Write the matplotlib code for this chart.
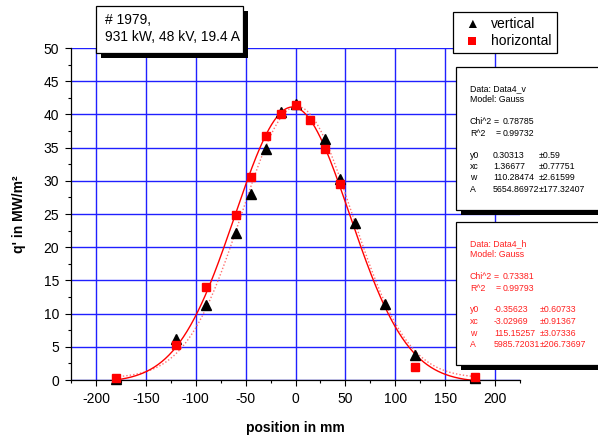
import numpy as np
import matplotlib
matplotlib.use("Agg")
import matplotlib.pyplot as plt
from matplotlib.patches import Rectangle
from matplotlib.ticker import MultipleLocator

plt.rcParams['font.family'] = ['Liberation Sans', 'DejaVu Sans']
plt.rcParams['axes.unicode_minus'] = False

# ---- data ----
x_vert = [-180, -120, -90, -60, -45, -30, -15, 0, 30, 45, 60, 90, 120, 180]
y_vert = [0.2, 6.2, 11.3, 22.1, 28.0, 34.8, 40.4, 41.6, 36.3, 30.3, 23.7, 11.4, 3.7, 0.3]

x_horiz = [-180, -120, -90, -60, -45, -30, -15, 0, 15, 30, 45, 120, 180]
y_horiz = [0.3, 5.2, 14.0, 24.9, 30.5, 36.7, 40.1, 41.4, 39.1, 34.8, 29.5, 2.0, 0.5]

# Gauss fit parameters (Origin Gauss model): y0, xc, w, A
fit_vert = [0.30313, 1.36677, 110.28474, 5654.86972]
fit_horiz = [-0.35623, -3.02969, 115.15257, 5985.72031]

x_ticks = [-200, -150, -100, -50, 0, 50, 100, 150, 200]
y_ticks = [0, 5, 10, 15, 20, 25, 30, 35, 40, 45, 50]

title_lines = ["# 1979,", "931 kW, 48 kV, 19.4 A"]
legend_labels = ["vertical", "horizontal"]

box_v_head = ["Data: Data4_v", "Model: Gauss"]
box_v_stats = [("Chi^2", "0.78785"), ("R^2", "0.99732")]
box_v_params = [("y0", "0.30313", "\u00b10.59"),
                ("xc", "1.36677", "\u00b10.77751"),
                ("w", "110.28474", "\u00b12.61599"),
                ("A", "5654.86972", "\u00b1177.32407")]

box_h_head = ["Data: Data4_h", "Model: Gauss"]
box_h_stats = [("Chi^2", "0.73381"), ("R^2", "0.99793")]
box_h_params = [("y0", "-0.35623", "\u00b10.60733"),
                ("xc", "-3.02969", "\u00b10.91367"),
                ("w", "115.15257", "\u00b13.07336"),
                ("A", "5985.72031", "\u00b1206.73697")]


def gauss(x, p):
    y0, xc, w, A = p
    return y0 + A / (w * np.sqrt(np.pi / 2)) * np.exp(-2 * ((x - xc) / w) ** 2)


W, H = 598, 436
fig = plt.figure(figsize=(W / 100, H / 100), dpi=100)


def fx(px):
    return px / W


def fy(py):
    return 1 - py / H


L, R, T, B = 71, 520, 48, 380
ax = fig.add_axes([fx(L), fy(B), (R - L) / W, (B - T) / H])
ax.set_xlim(-225, 225)
ax.set_ylim(0, 50)
for s in ['top', 'right']:
    ax.spines[s].set_visible(False)
for s in ['left', 'bottom']:
    ax.spines[s].set_linewidth(0.9)

ax.set_xticks(x_ticks)
ax.set_yticks(y_ticks)
ax.xaxis.set_minor_locator(MultipleLocator(25))
ax.yaxis.set_minor_locator(MultipleLocator(2.5))
ax.tick_params(which='major', direction='out', length=4, width=0.8, labelsize=10, pad=4.5)
ax.tick_params(which='minor', direction='out', length=2.5, width=0.8)
ax.grid(True, which='major', color='#2020ff', linewidth=1.0)
ax.set_axisbelow(True)

xs = np.linspace(-180, 180, 400)
ax.plot(xs, gauss(xs, fit_vert), color='#ff7070', linestyle=(0, (1, 1.5)), linewidth=1.0, zorder=2)
ax.plot(xs, gauss(xs, fit_horiz), color='red', linewidth=1.0, zorder=2)
ax.plot(x_vert, y_vert, linestyle='none', marker='^', color='black', markersize=7, zorder=3, clip_on=False)
ax.plot(x_horiz, y_horiz, linestyle='none', marker='s', color='red', markersize=6, zorder=4, clip_on=False)

ax.set_xlabel("position in mm", fontsize=10, fontweight='bold', labelpad=11)
ax.set_ylabel("q' in MW/m\u00b2", fontsize=10, fontweight='bold', labelpad=13)


def box(x0, y0, x1, y1, shadow=0, sh_dx=0):
    if shadow:
        fig.patches.append(Rectangle((fx(x0 + sh_dx), fy(y1 + shadow)), (x1 - x0) / W, (y1 - y0) / H,
                                     transform=fig.transFigure, facecolor='black', edgecolor='none', zorder=5))
    fig.patches.append(Rectangle((fx(x0), fy(y1)), (x1 - x0) / W, (y1 - y0) / H,
                                 transform=fig.transFigure, facecolor='white', edgecolor='black',
                                 linewidth=0.9, zorder=6))


# title box
box(96, 6, 243, 53, shadow=5, sh_dx=5)
fig.text(fx(105), fy(20), title_lines[0], fontsize=10, va='center', ha='left', zorder=7)
fig.text(fx(105), fy(37), title_lines[1], fontsize=10, va='center', ha='left', zorder=7)

# legend box
box(453, 12, 557, 53)
fig.text(fx(472), fy(24), "\u25b2", fontsize=10, va='center', ha='center', zorder=7)
fig.patches.append(Rectangle((fx(468), fy(45)), 8 / W, 8 / H, transform=fig.transFigure,
                             facecolor='red', edgecolor='none', zorder=7))
fig.text(fx(491), fy(24), legend_labels[0], fontsize=10, va='center', ha='left', zorder=7)
fig.text(fx(491), fy(41), legend_labels[1], fontsize=10, va='center', ha='left', zorder=7)


def fit_box(top, bottom, head, stats, params, color, xv, xpm):
    box(456, top, 620, bottom, shadow=5, sh_dx=5)
    fs = 6.3
    ys_head = [top + 21.5, top + 32.5]
    ys_stats = [top + 54.5, top + 66]
    ys_par = [top + 88, top + 99.5, top + 111, top + 122.5]
    for t, yy in zip(head, ys_head):
        fig.text(fx(470), fy(yy), t, fontsize=fs, color=color, va='center', ha='left', zorder=7)
    for (lab, val), yy, eqx in zip(stats, ys_stats, [493.5, 496]):
        fig.text(fx(470), fy(yy), lab, fontsize=fs, color=color, va='center', ha='left', zorder=7)
        fig.text(fx(eqx), fy(yy), "=", fontsize=fs, color=color, va='center', ha='left', zorder=7)
        fig.text(fx(503), fy(yy), val, fontsize=fs, color=color, va='center', ha='left', zorder=7)
    for (lab, val, err), yy in zip(params, ys_par):
        fig.text(fx(470), fy(yy), lab, fontsize=fs, color=color, va='center', ha='left', zorder=7)
        fig.text(fx(xv), fy(yy), val, fontsize=fs, color=color, va='center', ha='left', zorder=7)
        fig.text(fx(xpm), fy(yy), err, fontsize=fs, color=color, va='center', ha='left', zorder=7)


fit_box(67, 210, box_v_head, box_v_stats, box_v_params, 'black', 493, 539)
fit_box(222, 365, box_h_head, box_h_stats, box_h_params, '#ff2020', 494, 540)

fig.savefig("out.png", dpi=100)
